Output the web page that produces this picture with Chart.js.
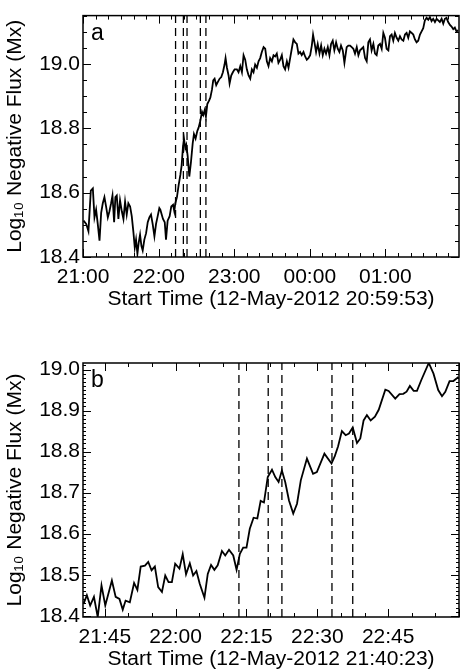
<!DOCTYPE html>
<html>
<head>
<meta charset="utf-8">
<script src="https://cdn.jsdelivr.net/npm/chart.js@4.4.1/dist/chart.umd.min.js"></script>
<style>
  html, body { margin: 0; padding: 0; background: #fff; }
  #wrap { position: relative; width: 461px; height: 672px; }
  canvas { position: absolute; left: 0; }
</style>
</head>
<body>
<div id="wrap">
  <canvas id="panelA" width="461" height="336" style="top:0"></canvas>
  <canvas id="panelB" width="461" height="336" style="top:336px"></canvas>
</div>
<script>
// times are minutes after 21:00 on 12-May-2012
const timeA = [
  0.3, 2.4, 4.2, 6.1, 7.7, 9.0, 10.3, 11.6, 13.0, 14.3,
  15.6, 16.9, 18.2, 19.6, 20.9, 22.2, 23.3, 24.6, 25.6, 26.7,
  28.0, 29.3, 30.7, 32.0, 33.3, 34.6, 35.9, 37.3, 38.6, 39.9,
  41.0, 42.0, 43.1, 44.1, 45.2, 46.3, 47.3, 48.6, 50.0, 51.3,
  52.6, 53.9, 55.2, 56.6, 57.9, 59.2, 60.5, 61.3, 63.4, 64.8,
  65.8, 67.1, 68.7, 70.0, 71.4, 72.4, 73.2, 74.5, 75.9, 77.2,
  78.2, 79.3, 80.1, 81.1, 81.9, 83.0, 84.3, 85.6, 87.0, 88.0,
  89.3, 90.7, 91.7, 93.0, 94.4, 95.4, 96.5, 97.5, 98.6, 99.9,
  101.0, 102.3, 103.3, 104.4, 105.7, 107.0, 108.4, 109.7, 111.0, 112.3,
  113.1, 114.2, 115.5, 116.3, 117.6, 118.9, 120.3, 122.1, 123.4, 124.8,
  126.1, 127.4, 128.7, 130.0, 131.4, 132.7, 134.0, 135.3, 136.6, 138.0,
  139.3, 140.6, 141.9, 143.3, 144.6, 145.9, 147.2, 148.5, 149.9, 151.2,
  152.5, 153.8, 155.1, 156.5, 157.8, 159.1, 160.4, 161.8, 163.1, 164.4,
  165.7, 167.0, 168.4, 169.7, 171.0, 172.3, 173.6, 175.0, 176.3, 177.6,
  178.9, 180.3, 181.6, 182.6, 183.7, 185.0, 186.3, 187.7, 189.0, 190.3,
  191.6, 192.9, 194.3, 195.6, 196.9, 198.2, 199.5, 200.9, 202.2, 203.5,
  204.8, 206.2, 207.5, 209.3, 210.6, 212.0, 213.3, 214.6, 215.9, 217.3,
  218.6, 219.9, 221.2, 222.5, 223.9, 225.2, 226.5, 227.8, 229.1, 230.5,
  231.8, 233.1, 234.4, 235.8, 237.1, 238.4, 239.7, 241.0, 242.4, 243.7,
  245.0, 246.3, 247.6, 249.0, 250.3, 251.6, 252.9, 254.3, 255.6, 256.9,
  258.2, 259.5, 260.9, 262.2, 263.5, 264.8, 266.1, 267.5, 268.8, 270.1,
  271.4, 272.8, 274.1, 275.4, 276.7, 278.0, 279.4, 280.7, 282.0, 283.3,
  284.7, 286.0, 287.3, 288.6, 289.9, 291.3, 292.6, 293.9, 295.2, 296.5,
  297.9
];
const fluxA = [
  18.513, 18.503, 18.480, 18.606, 18.613, 18.523, 18.547, 18.503, 18.451, 18.537,
  18.567, 18.586, 18.557, 18.523, 18.542, 18.567, 18.591, 18.508, 18.586, 18.591,
  18.518, 18.576, 18.542, 18.518, 18.572, 18.532, 18.567, 18.557, 18.527, 18.478,
  18.429, 18.454, 18.410, 18.444, 18.469, 18.434, 18.420, 18.454, 18.474, 18.508,
  18.523, 18.532, 18.503, 18.464, 18.503, 18.527, 18.552, 18.547, 18.518, 18.508,
  18.454, 18.513, 18.527, 18.557, 18.562, 18.542, 18.567, 18.586, 18.625, 18.655,
  18.684, 18.743, 18.768, 18.738, 18.748, 18.714, 18.650, 18.694, 18.753, 18.782,
  18.768, 18.792, 18.802, 18.822, 18.851, 18.841, 18.856, 18.836, 18.875, 18.885,
  18.895, 18.920, 18.949, 18.954, 18.934, 18.944, 18.954, 18.959, 18.974, 18.998,
  19.018, 18.988, 18.964, 18.939, 18.964, 18.974, 18.983, 18.983, 18.974, 18.993,
  18.974, 19.027, 19.013, 18.983, 18.964, 18.954, 18.983, 18.974, 18.998, 18.988,
  19.008, 19.018, 19.037, 19.052, 19.047, 19.008, 18.993, 19.018, 19.008, 19.027,
  19.023, 19.032, 19.003, 19.013, 19.027, 18.993, 18.983, 19.008, 18.988, 19.018,
  19.047, 19.076, 19.067, 19.062, 19.032, 19.037, 19.027, 19.037, 19.023, 19.013,
  19.018, 19.027, 19.057, 19.091, 19.067, 19.037, 19.062, 19.032, 19.057, 19.027,
  19.047, 19.032, 19.052, 19.027, 19.062, 19.072, 19.042, 19.067, 19.047, 19.037,
  19.057, 19.042, 19.003, 19.052, 19.057, 19.057, 19.052, 19.047, 19.032, 19.052,
  19.027, 19.042, 19.047, 19.052, 19.018, 19.008, 19.067, 19.076, 19.042, 19.062,
  19.032, 19.027, 19.057, 19.062, 19.047, 19.096, 19.081, 19.047, 19.042, 19.086,
  19.091, 19.072, 19.096, 19.081, 19.072, 19.086, 19.076, 19.072, 19.091, 19.096,
  19.081, 19.101, 19.096, 19.091, 19.076, 19.067, 19.072, 19.091, 19.101, 19.111,
  19.135, 19.143, 19.137, 19.145, 19.133, 19.140, 19.130, 19.140, 19.135, 19.130,
  19.140, 19.125, 19.140, 19.143, 19.130, 19.121, 19.116, 19.108, 19.113, 19.101,
  19.104
];

const timeB = [
  40.5, 41.2, 41.9, 42.7, 43.5, 44.3, 45.1, 46.5, 47.3, 48.1,
  48.8, 49.4, 50.3, 51.2, 51.9, 52.6, 53.5, 54.2, 54.9, 55.6,
  56.3, 57.1, 57.8, 58.5, 59.2, 59.9, 60.8, 61.5, 62.2, 63.0,
  63.7, 64.4, 65.1, 66.1, 66.8, 67.5, 68.2, 68.9, 69.8, 70.5,
  71.3, 72.2, 72.9, 73.6, 74.3, 75.0, 75.7, 76.5, 77.3, 78.0,
  78.7, 79.5, 80.4, 81.1, 81.8, 82.5, 83.2, 84.0, 84.9, 85.7,
  86.5, 87.8, 89.1, 89.9, 91.5, 93.0, 93.7, 94.4, 95.2, 96.0,
  96.7, 97.5, 98.4, 99.1, 99.8, 100.5, 101.3, 102.2, 103.0, 104.4,
  105.1, 106.5, 107.4, 108.2, 108.9, 109.6, 110.4, 111.1, 112.0, 113.6,
  114.6, 115.6, 116.4, 117.1, 118.0, 118.8, 119.9
];
const fluxB = [
  18.429, 18.450, 18.425, 18.446, 18.397, 18.474, 18.425, 18.486, 18.446, 18.441,
  18.415, 18.437, 18.433, 18.480, 18.463, 18.520, 18.522, 18.531, 18.511, 18.520,
  18.470, 18.458, 18.498, 18.482, 18.482, 18.527, 18.515, 18.550, 18.501, 18.528,
  18.498, 18.509, 18.478, 18.444, 18.502, 18.524, 18.512, 18.523, 18.558, 18.547,
  18.561, 18.547, 18.512, 18.551, 18.566, 18.566, 18.612, 18.639, 18.637, 18.680,
  18.676, 18.738, 18.756, 18.738, 18.726, 18.754, 18.726, 18.681, 18.649, 18.673,
  18.730, 18.783, 18.746, 18.750, 18.795, 18.771, 18.789, 18.813, 18.850, 18.840,
  18.844, 18.859, 18.821, 18.832, 18.876, 18.889, 18.876, 18.885, 18.902, 18.951,
  18.948, 18.929, 18.940, 18.941, 18.946, 18.960, 18.948, 18.948, 18.974, 19.016,
  18.990, 18.950, 18.935, 18.946, 18.972, 18.972, 18.982
];

// dashed markers, same times in both panels
const markTimes = [73.4, 79.6, 82.5, 93.1, 97.5];

const xTicksA = [0, 60, 120, 180, 240];
const xLabelsA = ['21:00', '22:00', '23:00', '00:00', '01:00'];
const yTicksA = [18.4, 18.6, 18.8, 19.0];
const xTicksB = [45, 60, 75, 90, 105];
const xLabelsB = ['21:45', '22:00', '22:15', '22:30', '22:45'];
const yTicksB = [18.4, 18.5, 18.6, 18.7, 18.8, 18.9, 19.0];

const FONT = "'Liberation Sans', Arial, Helvetica, sans-serif";

// IDL-style box: inward ticks on all four sides + panel letter
const frame = {
  id: 'frame',
  afterDatasetsDraw(chart, args, o) {
    const { ctx, chartArea: a, scales: { x, y } } = chart;
    ctx.save();
    ctx.strokeStyle = '#000';
    ctx.lineWidth = 1;
    ctx.beginPath();
    const i0 = Math.ceil(x.min / o.xMinor - 1e-6), i1 = Math.floor(x.max / o.xMinor + 1e-6);
    for (let i = i0; i <= i1; i++) {
      const px = Math.round(x.getPixelForValue(i * o.xMinor)) + 0.5;
      const len = i % o.xEvery === 0 ? 8 : 4;
      ctx.moveTo(px, a.bottom); ctx.lineTo(px, a.bottom - len);
      ctx.moveTo(px, a.top); ctx.lineTo(px, a.top + len);
    }
    const j0 = Math.ceil(y.min / o.yMinor - 1e-6), j1 = Math.floor(y.max / o.yMinor + 1e-6);
    for (let j = j0; j <= j1; j++) {
      const py = Math.round(y.getPixelForValue(j * o.yMinor)) + 0.5;
      const len = j % o.yEvery === 0 ? 8 : o.yShort;
      ctx.moveTo(a.left, py); ctx.lineTo(a.left + len, py);
      ctx.moveTo(a.right, py); ctx.lineTo(a.right - len, py);
    }
    ctx.stroke();
    ctx.lineWidth = 1.5;
    ctx.strokeRect(a.left, a.top, a.right - a.left, a.bottom - a.top);
    ctx.fillStyle = '#000';
    ctx.font = '23px ' + FONT;
    ctx.textBaseline = 'alphabetic';
    ctx.fillText(o.letter, a.left + 8, a.top + 24);
    ctx.restore();
  }
};

function makePanel(id, c) {
  const datasets = [{
    data: c.times.map((t, i) => ({ x: t, y: c.flux[i] })),
    borderColor: '#000', borderWidth: 1.8, pointRadius: 0, tension: 0
  }];
  markTimes.forEach(t => datasets.push({
    data: [{ x: t, y: c.yMin }, { x: t, y: c.yMax }],
    borderColor: '#000', borderWidth: 1.3, borderDash: [8, 5], pointRadius: 0
  }));

  return new Chart(document.getElementById(id), {
    type: 'line',
    data: { datasets },
    options: {
      responsive: false,
      animation: false,
      events: [],
      layout: { padding: { top: c.padTop, right: 2, bottom: c.padBottom, left: 0 } },
      plugins: {
        legend: { display: false },
        tooltip: { enabled: false },
        frame: c.frame
      },
      scales: {
        x: {
          type: 'linear', min: c.xMin, max: c.xMax,
          grid: { display: false, drawTicks: false },
          border: { display: false },
          afterBuildTicks: s => { s.ticks = c.xTicks.map(v => ({ value: v })); },
          afterFit: s => { s.height = 55; },
          ticks: {
            autoSkip: false, maxRotation: 0, padding: 8, color: '#000',
            font: { family: FONT, size: 21 },
            callback: v => c.xLabels[c.xTicks.indexOf(v)]
          },
          title: {
            display: true, text: c.xTitle, color: '#000',
            font: { family: FONT, size: 21 }, padding: { top: 0, bottom: 0 }
          }
        },
        y: {
          min: c.yMin, max: c.yMax,
          grid: { display: false, drawTicks: false },
          border: { display: false },
          afterBuildTicks: s => { s.ticks = c.yTicks.map(v => ({ value: v })); },
          afterFit: s => { s.width = 83; },
          ticks: {
            padding: 3, color: '#000',
            font: { family: FONT, size: 21 },
            callback: v => v.toFixed(1)
          },
          title: {
            display: true, text: 'Log₁₀ Negative Flux (Mx)', color: '#000',
            font: { family: FONT, size: 21 }, padding: { top: 3, bottom: 0 }
          }
        }
      }
    },
    plugins: [frame]
  });
}

makePanel('panelA', {
  times: timeA, flux: fluxA,
  xMin: -0.117, xMax: 298.5, yMin: 18.4, yMax: 19.15,
  xTicks: xTicksA, xLabels: xLabelsA, yTicks: yTicksA,
  xTitle: 'Start Time (12-May-2012 20:59:53)',
  padTop: 3, padBottom: 24,
  frame: { letter: 'a', xMinor: 10, xEvery: 6, yMinor: 0.05, yEvery: 4, yShort: 4 }
});

makePanel('panelB', {
  times: timeB, flux: fluxB,
  xMin: 40.383, xMax: 120, yMin: 18.397, yMax: 19.016,
  xTicks: xTicksB, xLabels: xLabelsB, yTicks: yTicksB,
  xTitle: 'Start Time (12-May-2012 21:40:23)',
  padTop: 27, padBottom: 0,
  frame: { letter: 'b', xMinor: 5, xEvery: 3, yMinor: 0.01, yEvery: 10, yShort: 3 }
});
</script>
</body>
</html>
